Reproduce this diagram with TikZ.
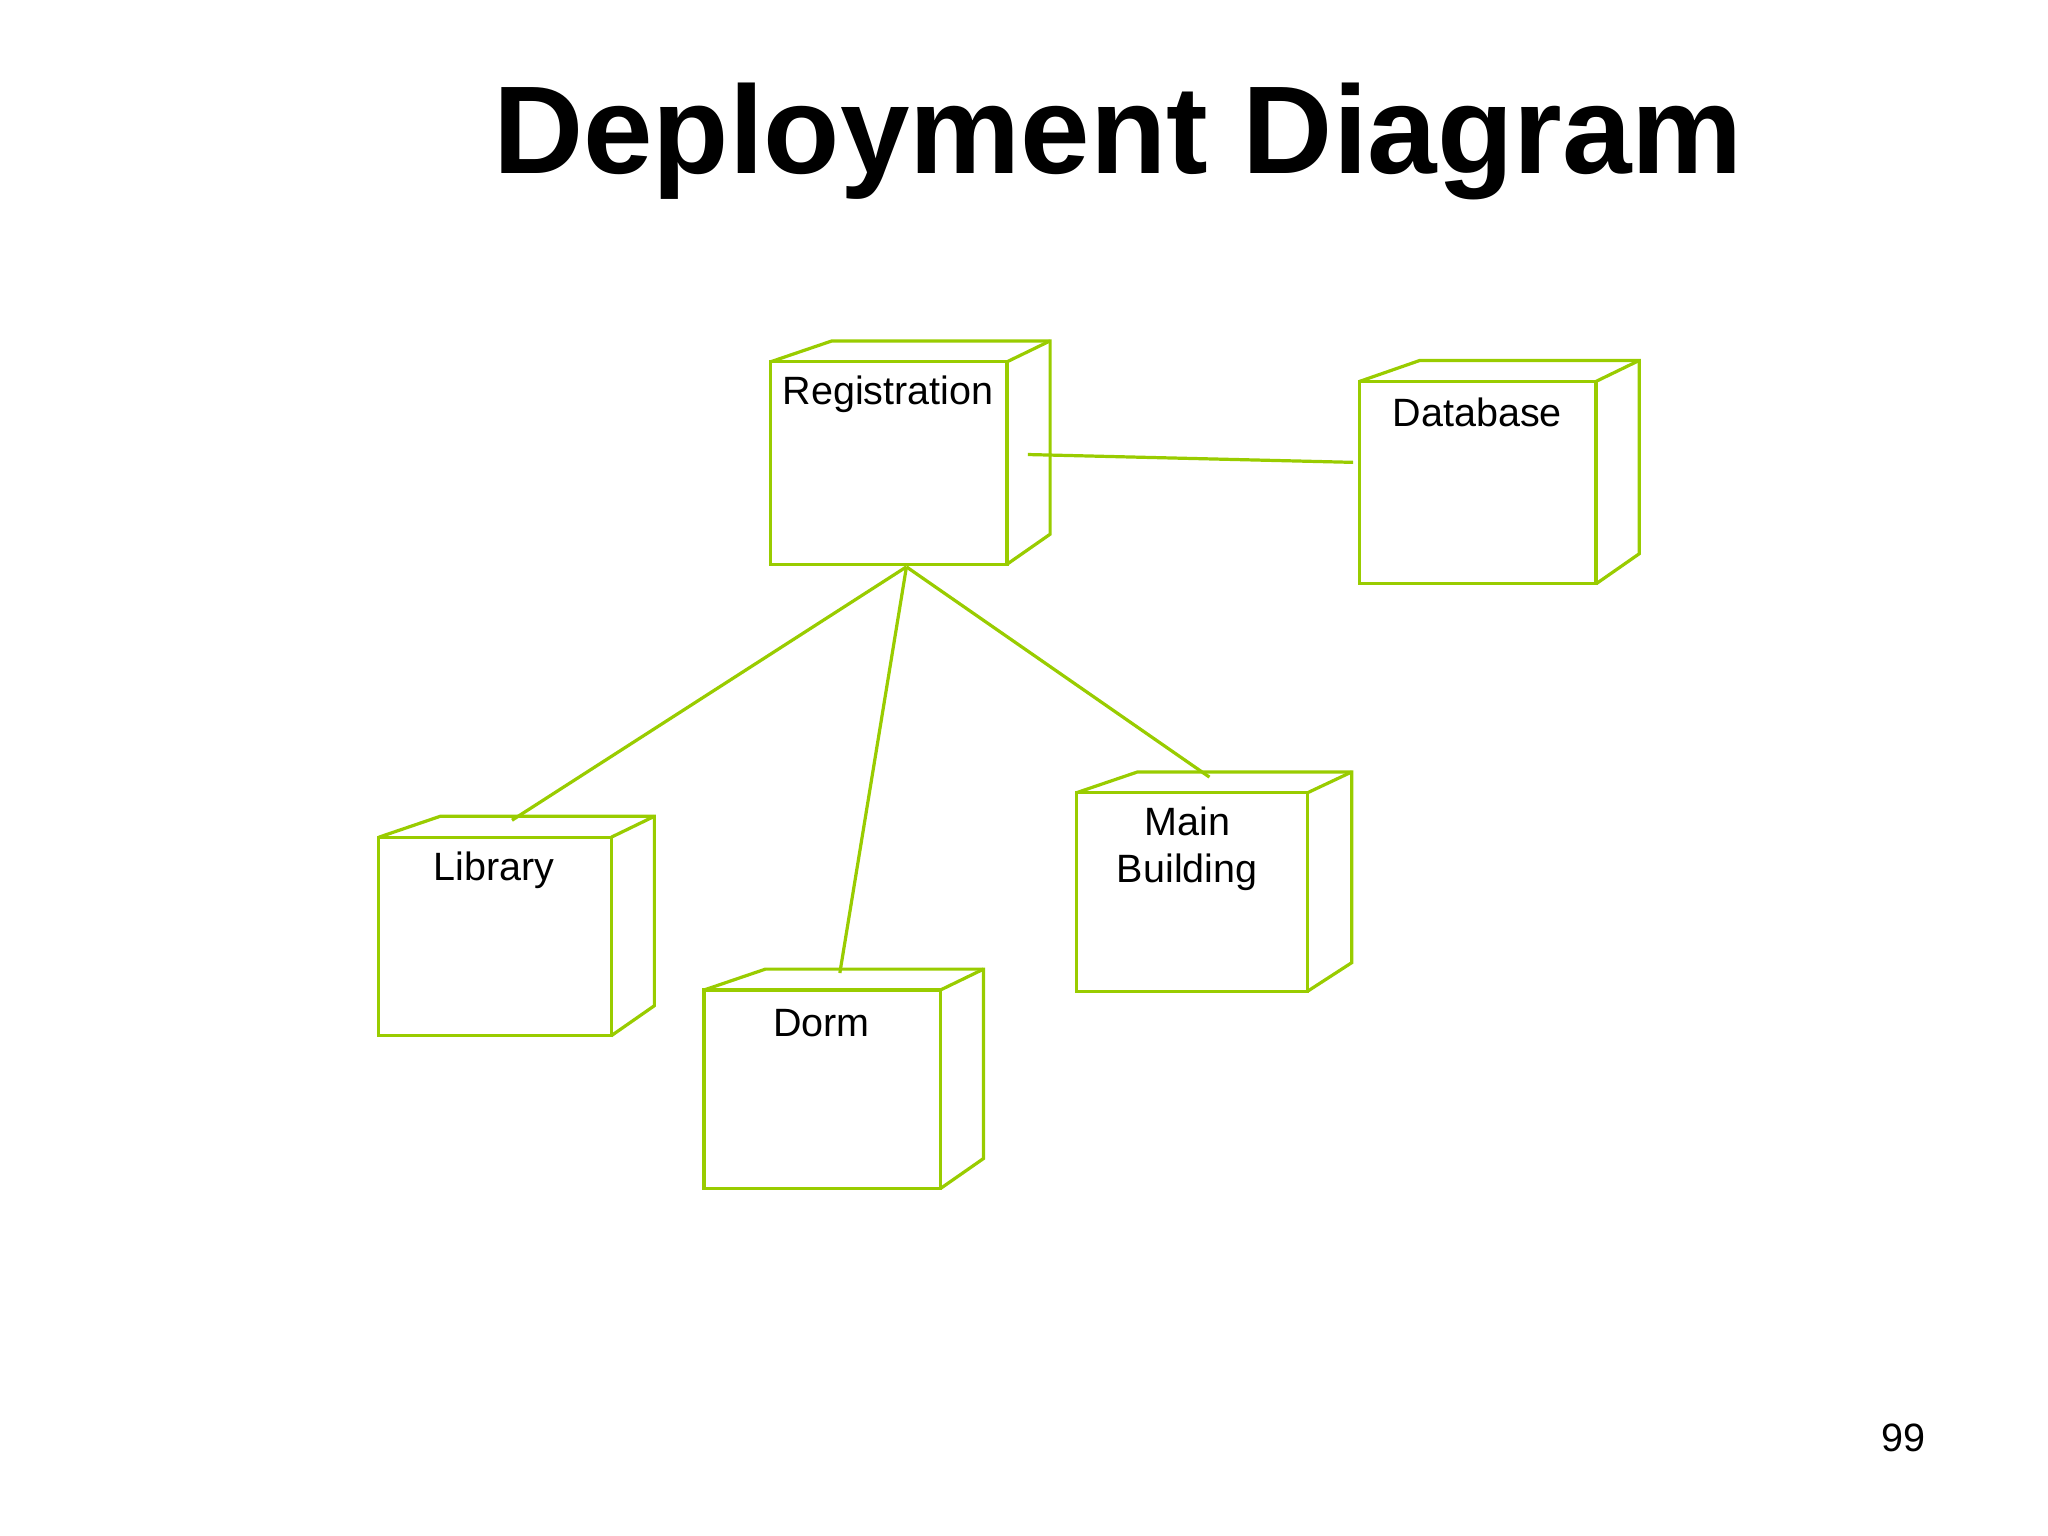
\documentclass[tikz,border=0pt]{standalone}
\usepackage{fontspec}
\setmainfont{Liberation Sans}
\definecolor{nodegreen}{RGB}{153,204,0}
\tikzset{boxline/.style={draw=nodegreen,line width=0.7pt,line join=miter},
  wire/.style={draw=nodegreen,line width=0.7pt},
  lbl/.style={font=\fontsize{8.6}{10.3}\selectfont,align=center,inner sep=0pt}}
% #1 name, #2 x1, #3 y1, #4 x2, #5 y2, #6 back-left x, #7 back-right x, #8 back-bottom y
\newcommand\nodebox[8]{%
  \draw[boxline] (#2,#3) rectangle (#4,#5);
  \draw[boxline] (#2,#3) -- (#6,#3-16) -- (#7,#3-16) -- (#7,#8) -- (#4,#5);
  \draw[boxline] (#4,#3) -- (#7,#3-16);
  \coordinate (#1) at (#2,#3);}
\begin{document}
\begin{tikzpicture}[x=0.01cm,y=-0.01cm]
\useasboundingbox (0,0) rectangle (1568,1176);
\node[font=\fontsize{27.2}{32}\selectfont\bfseries,inner sep=0pt] (title) at (856,108) {Deployment Diagram};
\nodebox{reg}{590}{277}{771}{432}{637}{804}{409}
\nodebox{db}{1041}{292}{1222}{447}{1087}{1255}{424}
\nodebox{lib}{290}{641}{468}{793}{337}{501}{770}
\nodebox{dorm}{539}{758}{720}{910}{586}{753}{887}
\nodebox{main}{824}{607}{1001}{759}{871}{1035}{737}
\node[lbl] (regl) at (680,302) {Registration};
\node[lbl] (dbl) at (1131,316) {Database};
\node[lbl] (libl) at (378,666) {Library};
\node[lbl] (dorml) at (629,783) {Dorm};
\node[lbl] (mainl) at (909,650) {Main\\ Building};
\node[lbl] (page) at (1457,1101) {99};
\coordinate (rb) at (694,434);
\coordinate (re) at (787,348);
\coordinate (de) at (1036,354);
\coordinate (lt) at (392,628);
\coordinate (dt) at (643,745);
\coordinate (mt) at (926,595);
\draw[wire] (re) -- (de);
\draw[wire] (rb) -- (lt);
\draw[wire] (rb) -- (dt);
\draw[wire] (rb) -- (mt);
\end{tikzpicture}
\end{document}
